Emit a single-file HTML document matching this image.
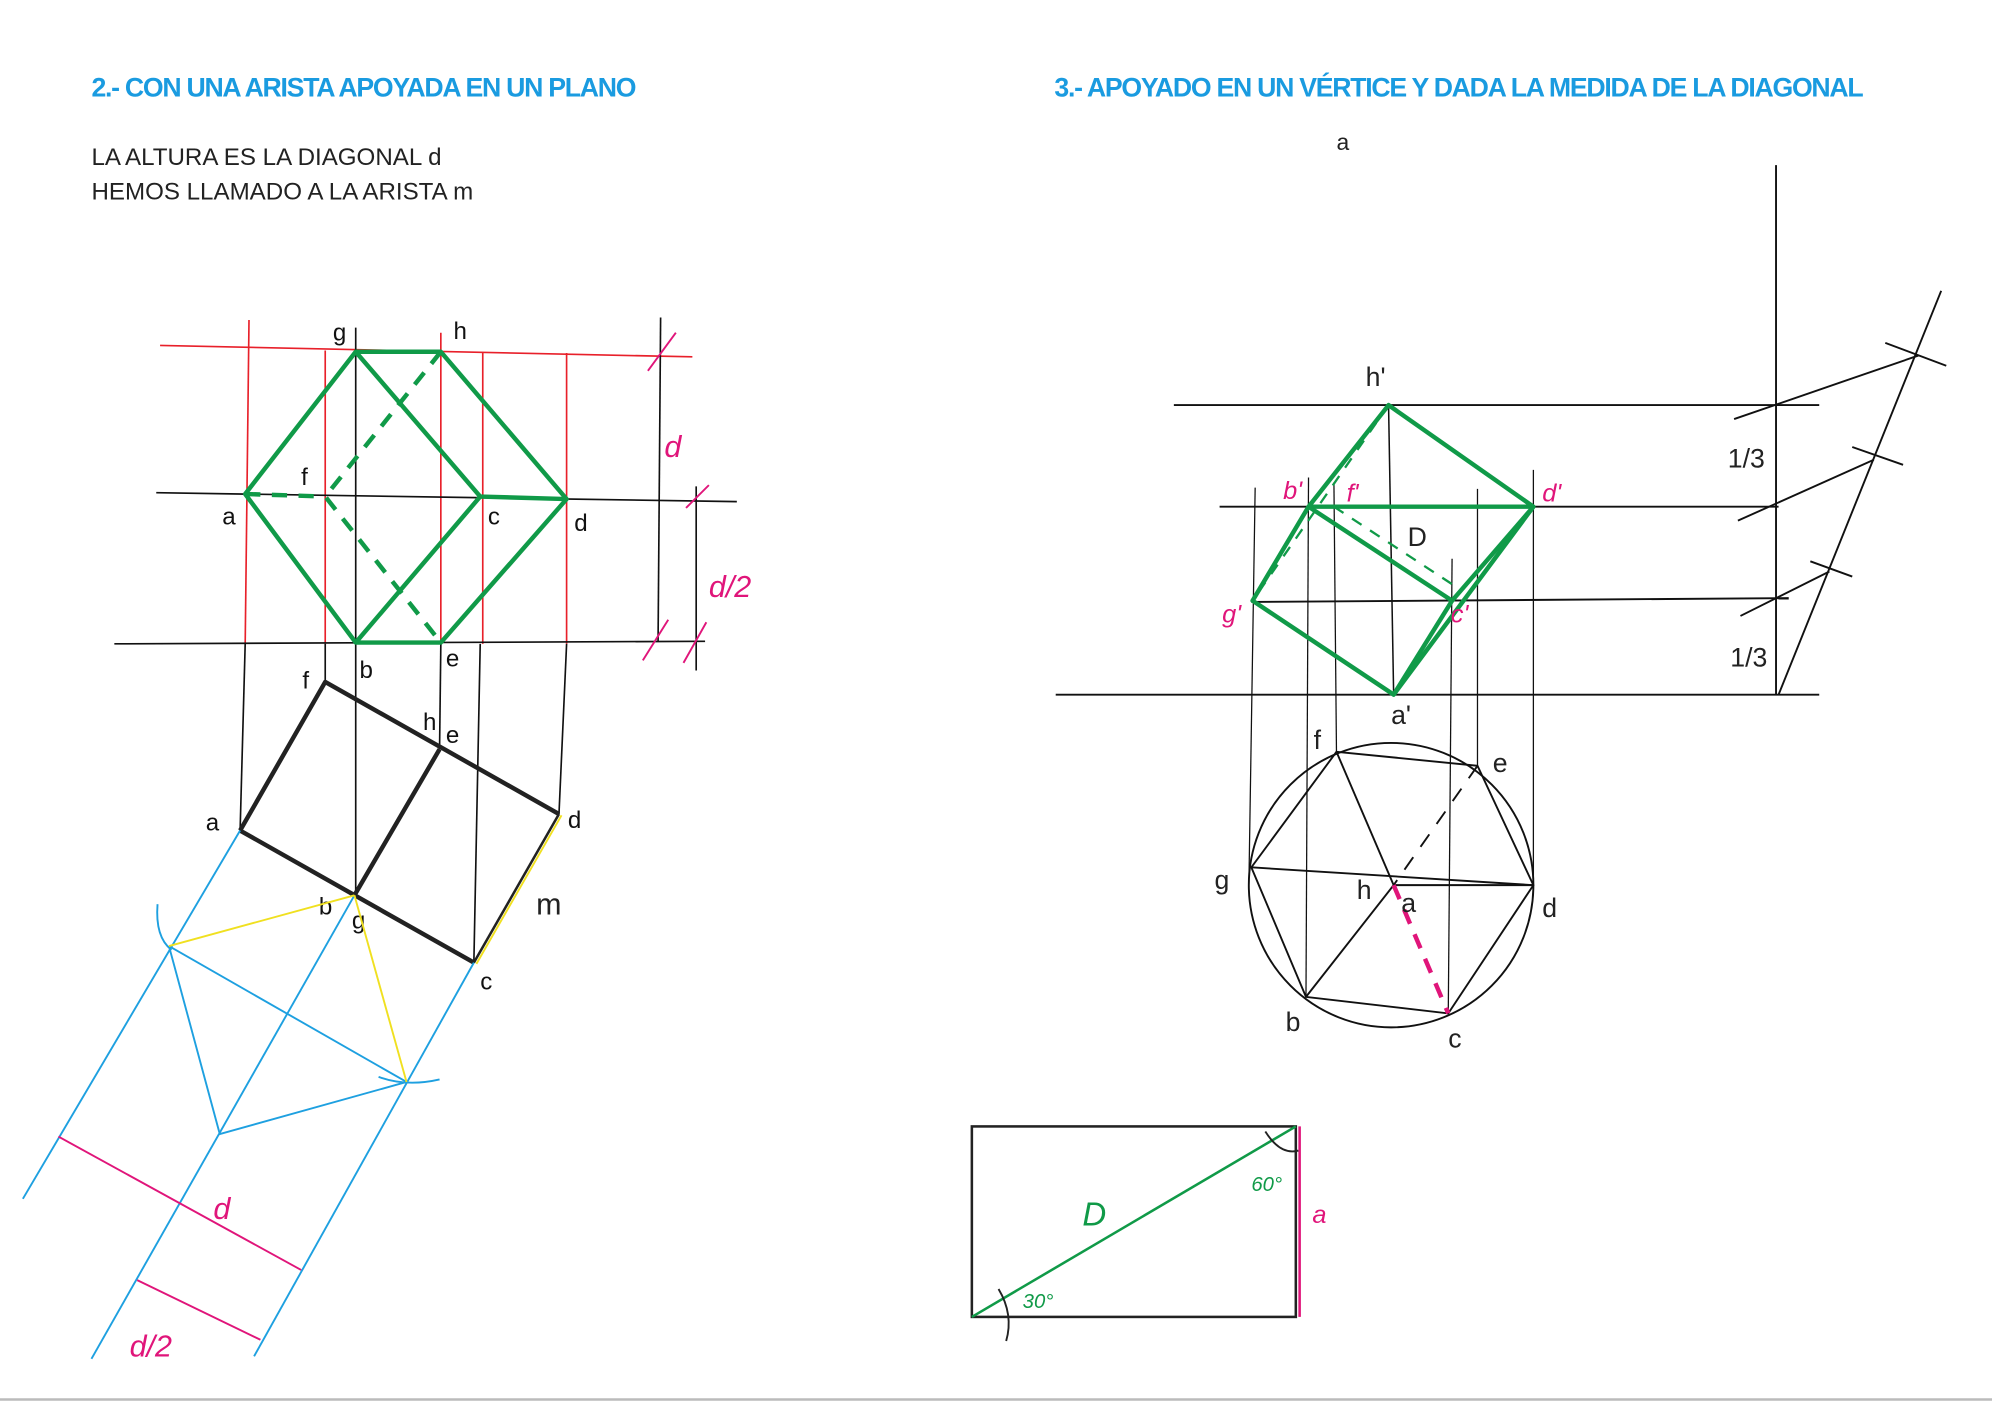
<!DOCTYPE html>
<html><head><meta charset="utf-8"><style>
html,body{margin:0;padding:0;background:#fff;}
svg{display:block;}
text{font-family:"Liberation Sans",sans-serif;}
</style></head><body>
<svg width="1992" height="1402" viewBox="0 0 1568 1104" preserveAspectRatio="none" xmlns="http://www.w3.org/2000/svg">
<rect width="1568" height="1104" fill="#fff"/>
<line x1="0" y1="1102" x2="1568" y2="1102" stroke="#bbb" stroke-width="2"/>
<text x="72" y="76" fill="#1a9be0" font-size="21" font-weight="bold" letter-spacing="-1">2.- CON UNA ARISTA APOYADA EN UN PLANO</text>
<text x="830" y="76" fill="#1a9be0" font-size="21" font-weight="bold" letter-spacing="-1">3.- APOYADO EN UN VÉRTICE Y DADA LA MEDIDA DE LA DIAGONAL</text>
<text x="72" y="130" fill="#222" font-size="19">LA ALTURA ES LA DIAGONAL d</text>
<text x="72" y="157" fill="#222" font-size="19">HEMOS LLAMADO A LA ARISTA   m</text>

<g stroke="#e8202a" stroke-width="1.3" fill="none">
<line x1="126" y1="272" x2="545" y2="281"/>
<line x1="196" y1="252" x2="193" y2="507"/>
<line x1="256" y1="276" x2="256" y2="507"/>
<line x1="347" y1="262" x2="347" y2="507"/>
<line x1="380" y1="278" x2="380" y2="507"/>
<line x1="446" y1="278" x2="446" y2="507"/>
</g>
<g stroke="#111" stroke-width="1.3" fill="none">
<line x1="123" y1="388" x2="580" y2="395"/>
<line x1="90" y1="507" x2="555" y2="505"/>
<line x1="280" y1="258" x2="280" y2="705"/>
<line x1="520" y1="250" x2="518" y2="505"/>
<line x1="548" y1="383" x2="548" y2="528"/>
<line x1="193" y1="507" x2="189" y2="654"/>
<line x1="256" y1="507" x2="256" y2="537"/>
<line x1="347" y1="507" x2="346" y2="590"/>
<line x1="378" y1="507" x2="373" y2="758"/>
<line x1="446" y1="507" x2="440" y2="641"/>
</g>
<g stroke="#e0157a" stroke-width="1.5" fill="none">
<line x1="510" y1="292" x2="532" y2="262"/>
<line x1="540" y1="400" x2="558" y2="382"/>
<line x1="506" y1="520" x2="526" y2="488"/>
<line x1="538" y1="522" x2="556" y2="490"/>
</g>
<g stroke="#109a48" stroke-width="3.5" fill="none" stroke-linejoin="round">
<polygon points="193,389 280,277 347,277 446,393 347,506 280,506"/>
<polyline points="280,277 378,391 280,506"/>
<line x1="378" y1="391" x2="446" y2="393"/>
<polyline points="347,277 256,391 347,506" stroke-dasharray="12,9"/>
<line x1="193" y1="389" x2="256" y2="391" stroke-dasharray="12,9"/>
</g>
<g font-size="19" fill="#111">
<text x="262" y="268">g</text><text x="357" y="267">h</text><text x="237" y="382">f</text>
<text x="175" y="413">a</text><text x="384" y="413">c</text><text x="452" y="418">d</text>
<text x="283" y="534">b</text><text x="351" y="525">e</text>
<text x="238" y="542">f</text><text x="333" y="575">h</text><text x="351" y="585">e</text>
<text x="162" y="654">a</text><text x="447" y="652">d</text><text x="251" y="720">b</text>
<text x="277" y="731">g</text><text x="378" y="779">c</text>
</g>
<g fill="#e0157a" font-size="24" font-style="italic">
<text x="523" y="360">d</text><text x="558" y="470">d/2</text>
<text x="168" y="960">d</text><text x="102" y="1068">d/2</text>
</g>
<text x="422" y="720" font-size="24" fill="#222">m</text>
<g stroke="#222" stroke-width="3.5" fill="none" stroke-linejoin="round">
<polyline points="189,654 256,537 440,641"/>
<polyline points="189,654 373,758"/>
<line x1="279" y1="705" x2="346" y2="590"/>
</g>
<line x1="440" y1="641" x2="373" y2="758" stroke="#222" stroke-width="2"/>
<line x1="442" y1="642" x2="375" y2="759" stroke="#f0e020" stroke-width="1.5"/>
<g stroke="#1ea0e0" stroke-width="1.5" fill="none">
<line x1="189" y1="654" x2="18" y2="944"/>
<line x1="279" y1="705" x2="72" y2="1070"/>
<line x1="373" y1="758" x2="200" y2="1068"/>
<polyline points="133,745 173,893 320,852 133,745"/>
<path d="M124,712 Q122,738 135,748"/>
<path d="M298,848 Q320,856 346,850"/>
</g>
<g stroke="#f0e020" stroke-width="1.5"><line x1="133" y1="745" x2="279" y2="705"/><line x1="279" y1="705" x2="320" y2="852"/></g>
<g stroke="#e0157a" stroke-width="1.5"><line x1="46" y1="895" x2="237" y2="1000"/><line x1="108" y1="1008" x2="205" y2="1055"/></g>

<g stroke="#111" stroke-width="1.5" fill="none">
<line x1="924" y1="319" x2="1432" y2="319"/>
<line x1="960" y1="399" x2="1400" y2="399"/>
<line x1="985" y1="474" x2="1408" y2="471"/>
<line x1="831" y1="547" x2="1432" y2="547"/>
<line x1="1398" y1="130" x2="1398" y2="547"/>
<line x1="1400" y1="547" x2="1528" y2="229"/>
<line x1="1365" y1="330" x2="1510" y2="280"/>
<line x1="1368" y1="410" x2="1475" y2="362"/>
<line x1="1370" y1="485" x2="1440" y2="450"/>
<line x1="1484" y1="270" x2="1532" y2="288"/>
<line x1="1458" y1="352" x2="1498" y2="366"/>
<line x1="1425" y1="442" x2="1458" y2="454"/>
<line x1="1093" y1="319" x2="1097" y2="547" stroke-width="1.2"/>
<g stroke-width="1">
<line x1="988" y1="384" x2="983" y2="700"/>
<line x1="1030" y1="376" x2="1028" y2="785"/>
<line x1="1050" y1="380" x2="1052" y2="592"/>
<line x1="1143" y1="440" x2="1140" y2="798"/>
<line x1="1163" y1="385" x2="1163" y2="603"/>
<line x1="1207" y1="370" x2="1207" y2="697"/>
</g>
<circle cx="1095" cy="697" r="112"/>
<polygon points="1052,592 1163,603 1207,697 1140,798 1028,785 985,683"/>
<line x1="985" y1="683" x2="1207" y2="697"/>
<line x1="1052" y1="592" x2="1097" y2="697"/>
<line x1="1028" y1="785" x2="1097" y2="697"/>
<line x1="1097" y1="697" x2="1207" y2="697"/>
<line x1="1163" y1="603" x2="1097" y2="697" stroke-dasharray="12,10"/>
</g>
<line x1="1097" y1="697" x2="1140" y2="798" stroke="#e0157a" stroke-width="3.5" stroke-dasharray="12,9"/>
<g stroke="#109a48" stroke-width="3.5" fill="none" stroke-linejoin="round">
<polygon points="1093,319 1207,399 1097,547 986,473 1030,399"/>
<line x1="1030" y1="399" x2="1207" y2="399"/>
<line x1="1030" y1="399" x2="1143" y2="473"/>
<line x1="1143" y1="473" x2="1097" y2="547"/>
<line x1="1143" y1="473" x2="1207" y2="399"/>
</g>
<g stroke="#109a48" stroke-width="1.8" fill="none" stroke-dasharray="9,8">
<line x1="1093" y1="319" x2="986" y2="473"/>
<line x1="1050" y1="399" x2="1143" y2="460"/>
</g>
<g font-size="21" fill="#222">
<text x="1052" y="118" font-size="18">a</text>
<text x="1075" y="304">h'</text><text x="1108" y="430">D</text><text x="1095" y="570">a'</text>
<text x="1360" y="368">1/3</text><text x="1362" y="525">1/3</text>
<text x="1034" y="590">f</text><text x="1175" y="608">e</text><text x="956" y="700">g</text>
<text x="1068" y="708">h</text><text x="1103" y="718">a</text><text x="1214" y="722">d</text>
<text x="1012" y="812">b</text><text x="1140" y="825">c</text>
</g>
<g font-size="20" fill="#e0157a" font-style="italic">
<text x="1010" y="393">b'</text><text x="1060" y="395">f'</text><text x="1214" y="395">d'</text>
<text x="962" y="490">g'</text><text x="1142" y="490">c'</text><text x="1033" y="963">a</text>
</g>
<rect x="765" y="887" width="255" height="150" fill="none" stroke="#222" stroke-width="2"/>
<line x1="765" y1="1037" x2="1020" y2="887" stroke="#109a48" stroke-width="2"/>
<line x1="1023" y1="887" x2="1023" y2="1037" stroke="#e0157a" stroke-width="2"/>
<path d="M786,1015 Q798,1035 792,1056" fill="none" stroke="#222" stroke-width="1.5"/>
<path d="M996,891 Q1008,910 1022,906" fill="none" stroke="#222" stroke-width="1.5"/>
<g fill="#109a48" font-style="italic">
<text x="852" y="965" font-size="26">D</text>
<text x="985" y="938" font-size="16">60°</text>
<text x="805" y="1030" font-size="16">30°</text>
</g>
</svg>
</body></html>
